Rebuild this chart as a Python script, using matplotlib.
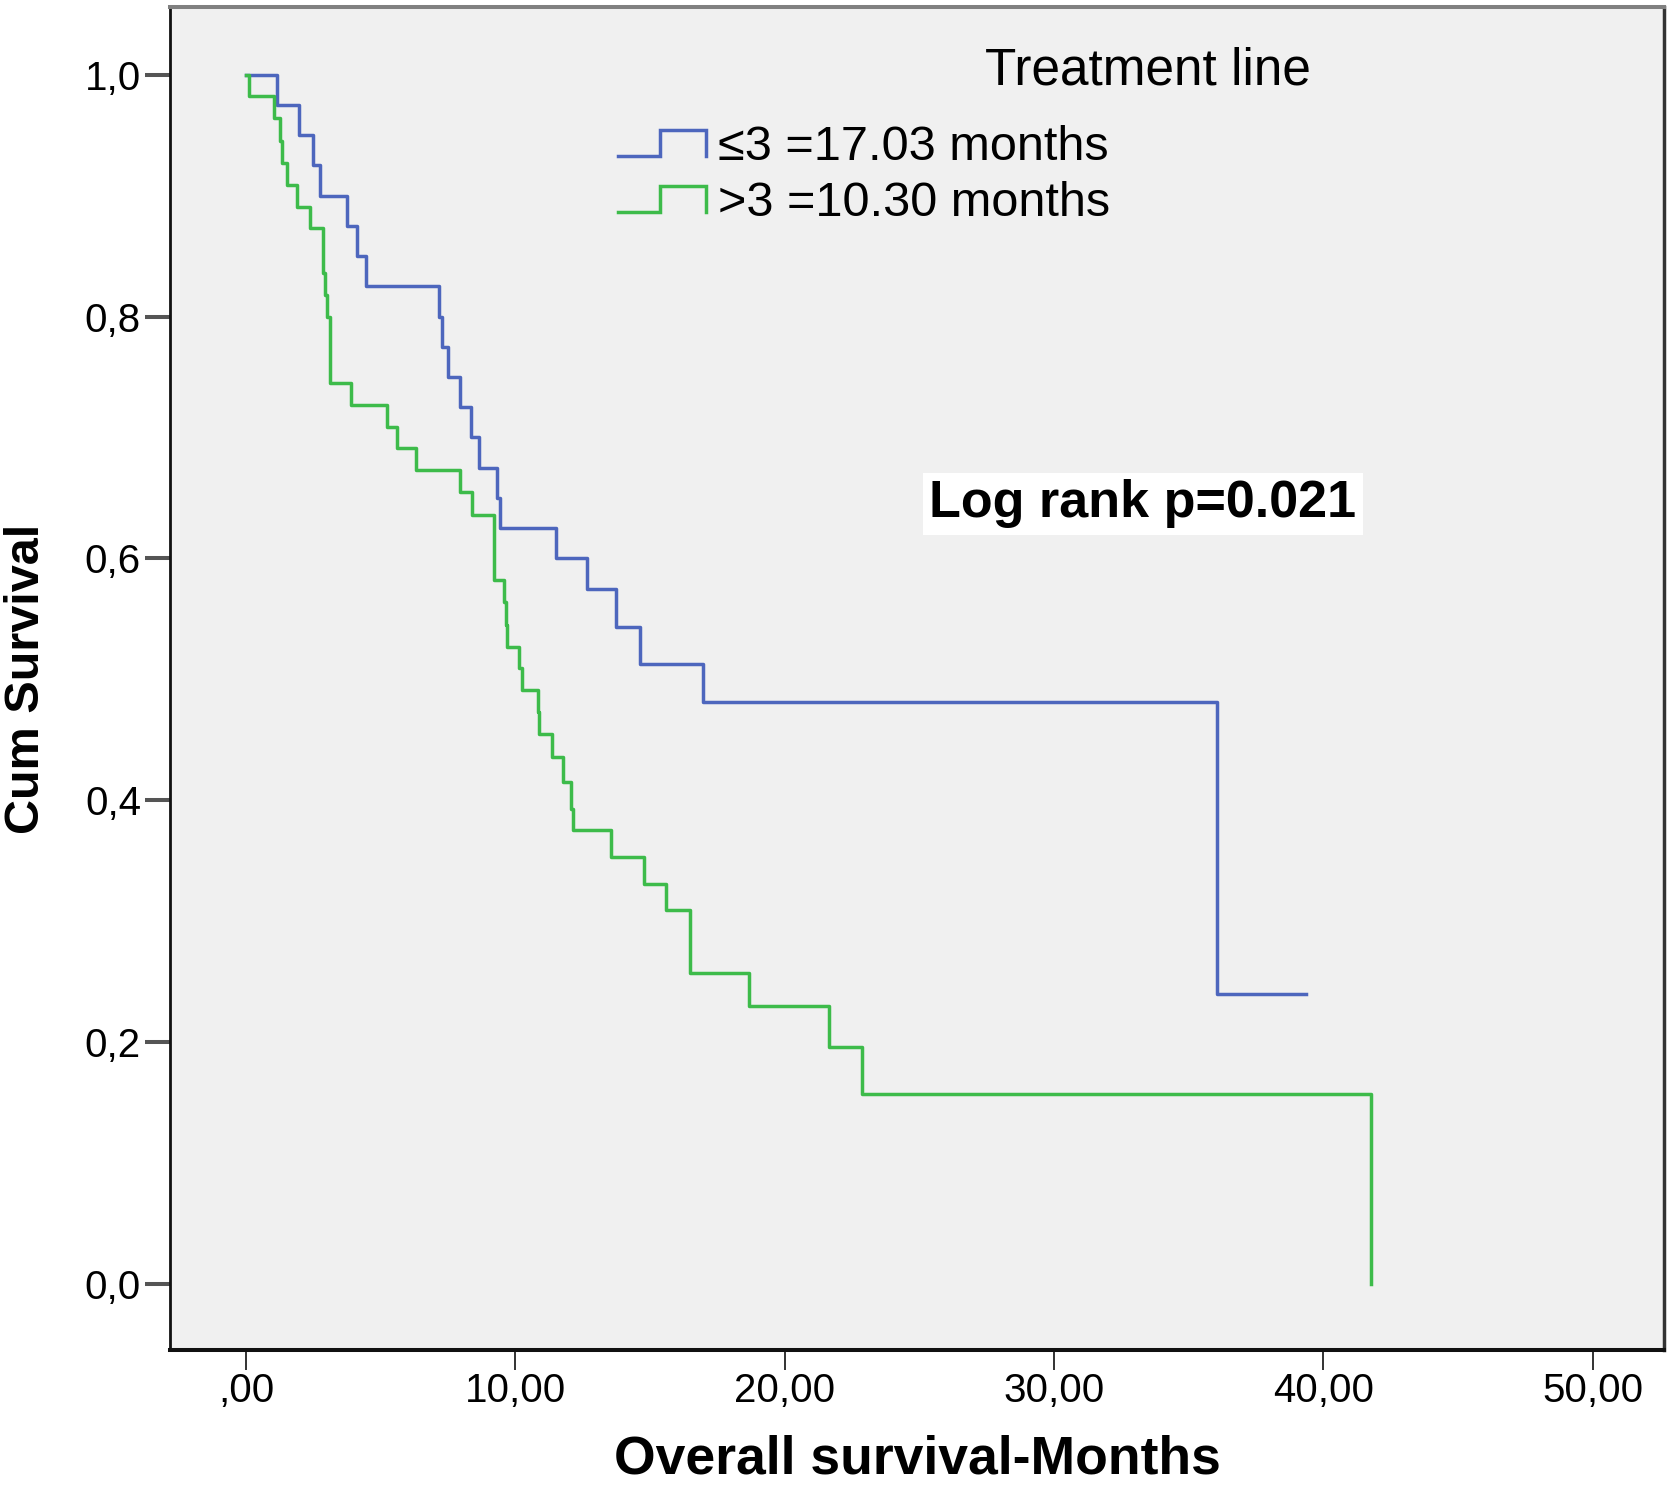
"""
Kaplan-Meier: supervivencia global por línea de tratamiento
"""
import matplotlib
matplotlib.use("Agg")
import matplotlib.pyplot as plt
from matplotlib.legend_handler import HandlerBase
from matplotlib.lines import Line2D

plt.rcParams['font.family'] = ['Liberation Sans', 'DejaVu Sans']

# Datos (meses, supervivencia acumulada)
blue_time = [0, 1.14, 1.97, 2.50, 2.75, 3.74, 4.11, 4.46, 7.18, 7.27, 7.51, 7.95,
             8.34, 8.66, 9.31, 9.43, 11.50, 12.67, 13.74, 14.63, 16.98, 36.03, 39.36]
blue_surv = [1.0, 0.975, 0.950, 0.925, 0.900, 0.875, 0.850, 0.825, 0.800, 0.775, 0.750, 0.725,
             0.700, 0.675, 0.650, 0.625, 0.600, 0.575, 0.543, 0.513, 0.481, 0.240, 0.240]

green_time = [0, 0.10, 1.04, 1.27, 1.35, 1.51, 1.88, 2.36, 2.85, 2.95, 3.02, 3.10, 3.89,
              5.23, 5.60, 6.31, 7.95, 8.38, 9.20, 9.58, 9.65, 9.70, 10.14, 10.24, 10.83,
              10.89, 11.35, 11.76, 12.06, 12.15, 13.55, 14.78, 15.59, 16.48, 18.67, 21.66,
              22.86, 41.78]
green_surv = [1.0, 0.982, 0.964, 0.945, 0.927, 0.909, 0.891, 0.873, 0.836, 0.818, 0.800, 0.745,
              0.727, 0.709, 0.691, 0.673, 0.655, 0.636, 0.582, 0.564, 0.545, 0.527, 0.509,
              0.491, 0.473, 0.455, 0.436, 0.415, 0.393, 0.375, 0.353, 0.331, 0.309, 0.257,
              0.230, 0.196, 0.157, 0.0]

labels = ['\u22643 =17.03 months', '>3 =10.30 months']
x_ticks = [0, 10, 20, 30, 40, 50]
x_tick_labels = [',00', '10,00', '20,00', '30,00', '40,00', '50,00']
y_ticks = [0.0, 0.2, 0.4, 0.6, 0.8, 1.0]
y_tick_labels = ['0,0', '0,2', '0,4', '0,6', '0,8', '1,0']

blue = '#4d66bd'
green = '#3dbb4a'


class StepHandler(HandlerBase):
    # símbolo de escalón como en SPSS
    def create_artists(self, legend, orig_handle, xdescent, ydescent,
                       width, height, fontsize, trans):
        x0, y0 = -xdescent, -ydescent
        xs = [x0, x0 + 0.48 * width, x0 + 0.48 * width, x0 + width, x0 + width]
        ys = [y0, y0, y0 + height, y0 + height, y0]
        ln = Line2D(xs, ys, color=orig_handle.get_color(),
                    lw=orig_handle.get_linewidth(), solid_joinstyle='miter')
        ln.set_transform(trans)
        return [ln]


fig = plt.figure(figsize=(16.74, 14.94), dpi=100)
ax = fig.add_axes([0.1016, 0.0964, 0.8924, 0.8989])
ax.set_facecolor('#f0f0f0')

l1, = ax.step(blue_time, blue_surv, where='post', color=blue, lw=2.5)
l2, = ax.step(green_time, green_surv, where='post', color=green, lw=2.5)

ax.set_xlim(-2.82, 52.64)
ax.set_ylim(-0.0547, 1.056)
ax.set_xticks(x_ticks)
ax.set_xticklabels(x_tick_labels)
ax.set_yticks(y_ticks)
ax.set_yticklabels(y_tick_labels)
ax.tick_params(axis='x', direction='out', length=14.5, width=1.4, color='#333333',
               labelsize=29, pad=1.5)
ax.tick_params(axis='y', direction='out', length=18, width=2.9, color='#555555',
               labelsize=29, pad=3)

ax.spines['left'].set_linewidth(2.0)
ax.spines['left'].set_color('#111111')
ax.spines['bottom'].set_linewidth(2.9)
ax.spines['bottom'].set_color('#111111')
ax.spines['top'].set_linewidth(2.9)
ax.spines['top'].set_color('#808080')
ax.spines['right'].set_linewidth(2.5)
ax.spines['right'].set_color('#333333')

ax.set_xlabel('Overall survival-Months', fontsize=38.5, fontweight='bold')
ax.xaxis.set_label_coords(0.5, -0.063)
ax.set_ylabel('Cum Survival', fontsize=35, fontweight='bold')
ax.yaxis.set_label_coords(-0.081, 0.5)

# leyenda
ax.text(0.6543, 0.9425, 'Treatment line', transform=ax.transAxes, fontsize=37,
        ha='center', va='baseline')
ax.legend([l1, l2], labels, handler_map={Line2D: StepHandler()},
          loc='upper left', bbox_to_anchor=(0.2999, 0.912), frameon=False,
          fontsize=35, handlelength=1.8, handleheight=0.45, handletextpad=0.25,
          labelspacing=0.22, borderpad=0, borderaxespad=0)

ax.text(33.3, 0.645, 'Log rank p=0.021', fontsize=37.5, fontweight='bold',
        ha='center', va='center',
        bbox=dict(boxstyle='square,pad=0.12', facecolor='white', edgecolor='none'))

fig.savefig('out.png', dpi=100, facecolor='white')
